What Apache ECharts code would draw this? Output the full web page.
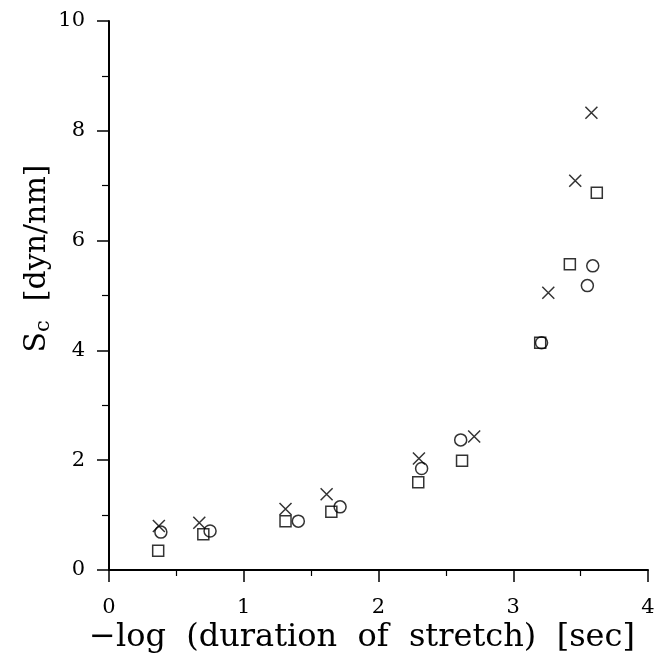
<!DOCTYPE html>
<html>
<head>
<meta charset="utf-8">
<script src="https://cdn.jsdelivr.net/npm/echarts@6/dist/echarts.min.js"></script>
<style>html,body{margin:0;padding:0;background:#fff}#c{width:659px;height:663px}</style>
</head>
<body>
<div id="c"></div>
<script>
// Data
const crossX = [0.37, 0.67, 1.31, 1.615, 2.30, 2.71, 3.26, 3.46, 3.58];
const crossY = [0.80, 0.86, 1.11, 1.38, 2.03, 2.43, 5.05, 7.09, 8.33];
const squareX = [0.365, 0.70, 1.31, 1.65, 2.295, 2.62, 3.20, 3.42, 3.62];
const squareY = [0.35, 0.65, 0.89, 1.06, 1.60, 1.99, 4.14, 5.57, 6.87];
const circleX = [0.385, 0.75, 1.405, 1.715, 2.32, 2.61, 3.21, 3.55, 3.59];
const circleY = [0.69, 0.71, 0.89, 1.15, 1.85, 2.37, 4.14, 5.18, 5.54];
const xTicks = [0, 1, 2, 3, 4];
const yTicks = [0, 2, 4, 6, 8, 10];
const xTitle = '\u2212log  (duration  of  stretch)  [sec]';
const yTitleMain = 'S';
const yTitleSub = 'c';
const yTitleUnit = '[dyn/nm]';

const pair = (xs, ys) => xs.map((x, i) => [x, ys[i]]);
const FONT = 'DejaVu Serif';
const chart = echarts.init(document.getElementById('c'));
const markerStyle = { color: 'none', borderColor: '#000', borderWidth: 1.5 };
chart.setOption({
  animation: false,
  backgroundColor: '#fff',
  grid: { left: 109, right: 11, top: 21, bottom: 93, containLabel: false },
  xAxis: {
    type: 'value', min: xTicks[0], max: xTicks[xTicks.length - 1], interval: 1,
    axisLine: { lineStyle: { color: '#000', width: 2 } },
    axisTick: { show: true, inside: false, length: 12, lineStyle: { color: '#000', width: 1.5 } },
    minorTick: { show: true, splitNumber: 2, length: 6, lineStyle: { color: '#000', width: 1.2 } },
    splitLine: { show: false },
    axisLabel: { color: '#000', fontFamily: FONT, fontSize: 21, margin: 27 },
    name: xTitle, nameLocation: 'middle', nameGap: 52, nameMoveOverlap: false,
    nameTextStyle: { color: '#000', fontFamily: FONT, fontSize: 32, padding: [0, 33, 0, 0] }
  },
  yAxis: {
    type: 'value', min: yTicks[0], max: yTicks[yTicks.length - 1], interval: 2,
    axisLine: { lineStyle: { color: '#000', width: 2 } },
    axisTick: { show: true, inside: false, length: 12, lineStyle: { color: '#000', width: 1.5 } },
    minorTick: { show: true, splitNumber: 2, length: 7, lineStyle: { color: '#000', width: 1.2 } },
    splitLine: { show: false },
    axisLabel: { color: '#000', fontFamily: FONT, fontSize: 21, margin: 24 },
    name: yTitleMain + '{sub|' + yTitleSub + '}  ' + yTitleUnit,
    nameLocation: 'middle', nameGap: 55, nameRotate: 90, nameMoveOverlap: false,
    nameTextStyle: {
      color: '#000', fontFamily: FONT, fontSize: 30, padding: [0, 0, 0, 74],
      rich: { sub: { fontFamily: FONT, fontSize: 21, verticalAlign: 'bottom', padding: [13, 0, 0, 0] } }
    }
  },
  series: [
    { type: 'scatter', name: 'cross', data: pair(crossX, crossY),
      symbol: 'path://M0,0L10,10M10,0L0,10', symbolSize: 12, itemStyle: markerStyle },
    { type: 'scatter', name: 'square', data: pair(squareX, squareY),
      symbol: 'rect', symbolSize: 11, itemStyle: markerStyle },
    { type: 'scatter', name: 'circle', data: pair(circleX, circleY),
      symbol: 'circle', symbolSize: 12, itemStyle: markerStyle }
  ]
});
</script>
</body>
</html>
